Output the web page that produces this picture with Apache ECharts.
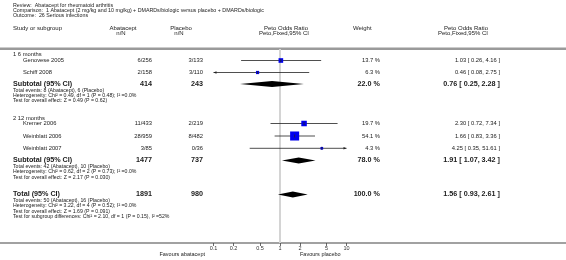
<!DOCTYPE html>
<html>
<head>
<meta charset="utf-8">
<script src="https://cdn.jsdelivr.net/npm/echarts@6/dist/echarts.min.js"></script>
<style>
html, body { margin: 0; padding: 0; background: #fff; }
#main { width: 566px; height: 260px; }
</style>
</head>
<body>
<div id="main"></div>
<script>
// study level data
var studyNames = ['Genovese 2005', 'Schiff 2008', 'Kremer 2006', 'Weinblatt 2006', 'Weinblatt 2007']
var abaEvents = ['6/256', '2/158', '11/433', '28/959', '3/85']
var plaEvents = ['3/133', '3/110', '2/219', '8/482', '0/36']
var weights = [13.7, 6.3, 19.7, 54.1, 4.3]
var orValues = [1.03, 0.46, 2.30, 1.66, 4.25]
var orLower = [0.26, 0.08, 0.72, 0.83, 0.35]
var orUpper = [4.16, 2.75, 7.34, 3.36, 51.61]

// subgroups + total
var groupNames = ['1 6 months', '2 12 months']
var pooledNames = ['Subtotal (95% CI)', 'Subtotal (95% CI)', 'Total (95% CI)']
var pooledAba = [414, 1477, 1891]
var pooledPla = [243, 737, 980]
var pooledWeights = [22.0, 78.0, 100.0]
var pooledOr = [0.76, 1.91, 1.56]
var pooledLower = [0.25, 1.07, 0.93]
var pooledUpper = [2.28, 3.42, 2.61]
var pooledNotes = [
  ['Total events: 8 (Abatacept), 6 (Placebo)',
    'Heterogeneity: Chi² = 0.49, df = 1 (P = 0.48); I² =0.0%',
    'Test for overall effect: Z = 0.49 (P = 0.62)'],
  ['Total events: 42 (Abatacept), 10 (Placebo)',
    'Heterogeneity: Chi² = 0.62, df = 2 (P = 0.73); I² =0.0%',
    'Test for overall effect: Z = 2.17 (P = 0.030)'],
  ['Total events: 50 (Abatacept), 16 (Placebo)',
    'Heterogeneity: Chi² = 3.22, df = 4 (P = 0.52); I² =0.0%',
    'Test for overall effect: Z = 1.69 (P = 0.091)',
    'Test for subgroup differences: Chi² = 2.10, df = 1 (P = 0.15), I² =52%'],
]
var tickValues = [0.1, 0.2, 0.5, 1, 2, 5, 10]

// layout (pixel rows, y axis is 1:1 with pixels)
var studyRowY = [60.5, 72.5, 123.5, 136, 148.3]
var groupRowY = [54.5, 118.5]
var pooledRowY = [84, 160.5, 194.5]
var FONT = '"Liberation Sans", Arial, sans-serif'

function txt(x, y, s, size, align, bold) {
  return {
    type: 'text',
    x: x,
    y: y,
    silent: true,
    style: {
      text: s,
      fontSize: size,
      fontFamily: FONT,
      fontWeight: bold ? 'bold' : 'normal',
      fill: '#1a1a1a',
      align: align || 'left',
      textAlign: align || 'left',
      verticalAlign: 'middle',
      textVerticalAlign: 'middle',
    },
  }
}
function ciText(o, l, u) {
  return o.toFixed(2) + ' [ ' + l.toFixed(2) + ', ' + u.toFixed(2) + ' ]'
}

var graphics = [
  txt(13, 6, 'Review:  Abatacept for rheumatoid arthritis', 5.3),
  txt(13, 11, 'Comparison:  1 Abatacept (2 mg/kg and 10 mg/kg) + DMARDs/biologic versus placebo + DMARDs/biologic', 5.3),
  txt(13, 16, 'Outcome:  26 Serious infections', 5.3),
  txt(13, 28, 'Study or subgroup', 6),
  txt(123, 28, 'Abatacept', 6, 'center'),
  txt(121, 33, 'n/N', 6, 'center'),
  txt(181, 28, 'Placebo', 6, 'center'),
  txt(179, 33, 'n/N', 6, 'center'),
  txt(286, 28, 'Peto Odds Ratio', 6, 'center'),
  txt(284, 33, 'Peto,Fixed,95% CI', 6, 'center'),
  txt(353, 28, 'Weight', 6),
  txt(488, 28, 'Peto Odds Ratio', 6, 'right'),
  txt(488, 33, 'Peto,Fixed,95% CI', 6, 'right'),
  { type: 'rect', silent: true, shape: { x: 0, y: 47.5, width: 566, height: 2.5 }, style: { fill: '#9a9a9a' } },
  { type: 'rect', silent: true, shape: { x: 0, y: 242.5, width: 566, height: 1 }, style: { fill: '#444' } },
  txt(205, 254, 'Favours abatacept', 5.5, 'right'),
  txt(300, 254, 'Favours placebo', 5.5),
]

groupNames.forEach(function (g, i) {
  graphics.push(txt(13, groupRowY[i], g, 5.8))
})
studyNames.forEach(function (n, i) {
  var y = studyRowY[i]
  graphics.push(txt(23, y, n, 5.8))
  graphics.push(txt(152, y, abaEvents[i], 5.8, 'right'))
  graphics.push(txt(203, y, plaEvents[i], 5.8, 'right'))
  graphics.push(txt(380, y, weights[i].toFixed(1) + ' %', 5.8, 'right'))
  graphics.push(txt(500, y, ciText(orValues[i], orLower[i], orUpper[i]), 5.8, 'right'))
})
pooledNames.forEach(function (n, i) {
  var y = pooledRowY[i]
  graphics.push(txt(13, y, n, 7.2, 'left', true))
  graphics.push(txt(152, y, String(pooledAba[i]), 7.2, 'right', true))
  graphics.push(txt(203, y, String(pooledPla[i]), 7.2, 'right', true))
  graphics.push(txt(380, y, pooledWeights[i].toFixed(1) + ' %', 7.2, 'right', true))
  graphics.push(txt(500, y, ciText(pooledOr[i], pooledLower[i], pooledUpper[i]), 7.2, 'right', true))
  pooledNotes[i].forEach(function (s, k) {
    graphics.push(txt(13, y + 6.3 + k * 5.2, s, 5.2))
  })
})

var XMIN = 0.1, XMAX = 10

function renderStudy(params, api) {
  var y = api.value(4)
  var lo = api.value(1), hi = api.value(2)
  var pL = api.coord([Math.max(lo, XMIN), y])
  var pH = api.coord([Math.min(hi, XMAX), y])
  var pM = api.coord([api.value(0), y])
  var s = 1.2 * Math.sqrt(api.value(3)) + 0.2
  var kids = [
    { type: 'line', shape: { x1: pL[0], y1: pL[1], x2: pH[0], y2: pH[1] }, style: { stroke: '#222', lineWidth: 0.8 } },
  ]
  if (lo < XMIN) {
    kids.push({ type: 'polygon', shape: { points: [[pL[0], pL[1]], [pL[0] + 3, pL[1] - 1.3], [pL[0] + 3, pL[1] + 1.3]] }, style: { fill: '#222' } })
  }
  if (hi > XMAX) {
    kids.push({ type: 'polygon', shape: { points: [[pH[0], pH[1]], [pH[0] - 3, pH[1] - 1.3], [pH[0] - 3, pH[1] + 1.3]] }, style: { fill: '#222' } })
  }
  kids.push({ type: 'rect', shape: { x: pM[0] - s / 2, y: pM[1] - s / 2, width: s, height: s }, style: { fill: '#0000ee' } })
  kids.push({ type: 'line', shape: { x1: pM[0], y1: pM[1] - 1.5, x2: pM[0], y2: pM[1] + 1.5 }, style: { stroke: '#222', lineWidth: 0.8 } })
  return { type: 'group', children: kids }
}

function renderDiamond(params, api) {
  var y = api.value(3)
  var pL = api.coord([api.value(1), y])
  var pH = api.coord([api.value(2), y])
  var pM = api.coord([api.value(0), y])
  var h = 3
  return {
    type: 'polygon',
    shape: { points: [[pL[0], pL[1]], [pM[0], pM[1] - h], [pH[0], pH[1]], [pM[0], pM[1] + h]] },
    style: { fill: '#000' },
  }
}

function renderNullLine(params, api) {
  var a = api.coord([api.value(0), api.value(1)])
  var b = api.coord([api.value(0), api.value(2)])
  return { type: 'line', shape: { x1: a[0], y1: a[1], x2: b[0], y2: b[1] }, style: { stroke: '#d4d4d4', lineWidth: 2 } }
}

var chart = echarts.init(document.getElementById('main'), null, { renderer: 'canvas' })
chart.setOption({
  animation: false,
  backgroundColor: '#fff',
  grid: { left: 213.5, right: 219.5, top: 0, bottom: 17 },
  xAxis: {
    type: 'log',
    logBase: 10,
    min: XMIN,
    max: XMAX,
    position: 'bottom',
    axisLine: { show: false, onZero: false },
    splitLine: { show: false },
    axisTick: { show: true, length: 3, customValues: tickValues, lineStyle: { color: '#444', width: 0.8 } },
    axisLabel: {
      customValues: tickValues,
      fontSize: 5.5,
      fontFamily: FONT,
      color: '#333',
      margin: 2,
      formatter: function (v) { return String(v) },
    },
  },
  yAxis: { type: 'value', min: 0, max: 243, inverse: true, show: false },
  graphic: graphics,
  series: [
    {
      type: 'custom',
      clip: false,
      z: 1,
      renderItem: renderNullLine,
      data: [[1, 49, 243]],
      encode: { x: 0, y: [1, 2] },
    },
    {
      type: 'custom',
      clip: false,
      z: 3,
      renderItem: renderStudy,
      data: studyNames.map(function (n, i) {
        return [orValues[i], orLower[i], orUpper[i], weights[i], studyRowY[i]]
      }),
      encode: { x: [0, 1, 2], y: 4 },
    },
    {
      type: 'custom',
      clip: false,
      z: 3,
      renderItem: renderDiamond,
      data: pooledNames.map(function (n, i) {
        return [pooledOr[i], pooledLower[i], pooledUpper[i], pooledRowY[i]]
      }),
      encode: { x: [0, 1, 2], y: 3 },
    },
  ],
})
</script>
</body>
</html>
